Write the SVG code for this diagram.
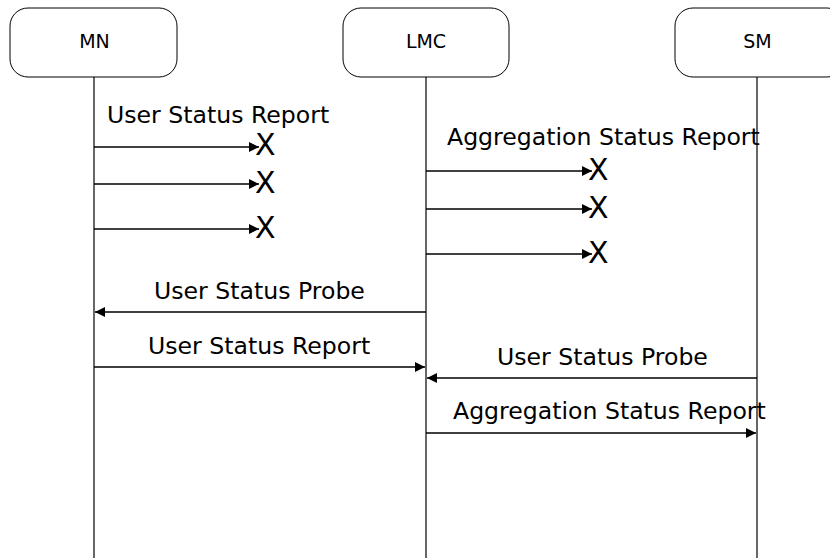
<svg xmlns="http://www.w3.org/2000/svg" width="830" height="558" viewBox="0 0 830 558">
<style>
.box{fill:#fff;stroke:#000;stroke-width:1}
.lbl{font-family:"DejaVu Sans",sans-serif;font-size:19px;fill:#000;text-anchor:middle}
.life{stroke:#000;stroke-width:1.2}
.msg{stroke:#000;stroke-width:1.3;fill:none}
.t{font-family:"DejaVu Sans",sans-serif;font-size:23.6px;fill:#000}
.x{font-family:"DejaVu Sans",sans-serif;font-size:30px;fill:#000}
</style>
<defs>
<marker id="ah" viewBox="0 0 10 10" refX="10" refY="5" markerWidth="11" markerHeight="10" markerUnits="userSpaceOnUse" orient="auto">
<path d="M0,0 L10,5 L0,10 Z" fill="#000"/>
</marker>
</defs>
<rect width="830" height="558" fill="#fff"/>
<g id="MN"><rect class="box" x="10" y="8" width="167" height="69" rx="18"/><text class="lbl" x="94.5" y="48">MN</text><line class="life" x1="94" y1="77" x2="94" y2="558"/></g>
<g id="LMC"><rect class="box" x="343" y="8" width="166" height="69" rx="18"/><text class="lbl" x="426" y="48">LMC</text><line class="life" x1="426" y1="77" x2="426" y2="558"/></g>
<g id="SM"><rect class="box" x="675" y="8" width="170" height="69" rx="18"/><text class="lbl" x="757.5" y="48">SM</text><line class="life" x1="757" y1="77" x2="757" y2="558"/></g>
<g id="connectors">
<line class="msg" x1="94" y1="147" x2="259" y2="147" marker-end="url(#ah)"/>
<line class="msg" x1="94" y1="184" x2="259" y2="184" marker-end="url(#ah)"/>
<line class="msg" x1="94" y1="229" x2="259" y2="229" marker-end="url(#ah)"/>
<line class="msg" x1="426" y1="171" x2="592" y2="171" marker-end="url(#ah)"/>
<line class="msg" x1="426" y1="209" x2="592" y2="209" marker-end="url(#ah)"/>
<line class="msg" x1="426" y1="254" x2="592" y2="254" marker-end="url(#ah)"/>
<line class="msg" x1="426" y1="312" x2="95" y2="312" marker-end="url(#ah)"/>
<line class="msg" x1="94" y1="367" x2="425" y2="367" marker-end="url(#ah)"/>
<line class="msg" x1="757" y1="378" x2="427" y2="378" marker-end="url(#ah)"/>
<line class="msg" x1="426" y1="433" x2="756" y2="433" marker-end="url(#ah)"/>
</g>
<g id="labels">
<text class="t" x="107" y="123">User Status Report</text>
<text class="x" x="255" y="155">X</text>
<text class="x" x="255" y="193">X</text>
<text class="x" x="255" y="238">X</text>
<text class="t" x="447" y="145">Aggregation Status Report</text>
<text class="x" x="588" y="180">X</text>
<text class="x" x="588" y="218">X</text>
<text class="x" x="588" y="263">X</text>
<text class="t" x="154" y="299">User Status Probe</text>
<text class="t" x="148" y="354">User Status Report</text>
<text class="t" x="497" y="365">User Status Probe</text>
<text class="t" x="453" y="419">Aggregation Status Report</text>
</g>
</svg>
